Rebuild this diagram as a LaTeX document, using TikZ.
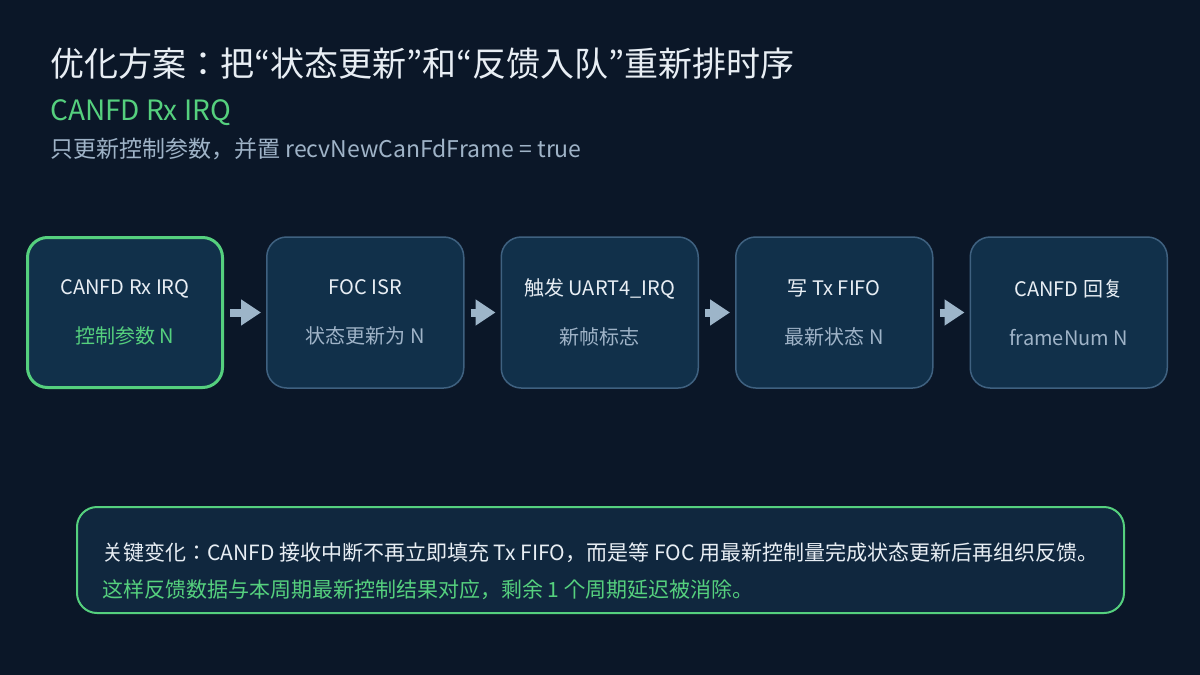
\documentclass[tikz,border=0pt]{standalone}
\usepackage{fontspec}
\setmainfont{Noto Sans CJK JP}
\usepackage{xcolor}
\usepackage{tikz}
\usetikzlibrary{positioning,arrows.meta}
\definecolor{pageBg}{HTML}{0B1728}
\definecolor{boxFill}{HTML}{11304A}
\definecolor{noteFill}{HTML}{10273E}
\definecolor{boxEdge}{HTML}{3F6180}
\definecolor{accentGreen}{HTML}{55D07E}
\definecolor{mainText}{HTML}{E8EEF4}
\definecolor{subText}{HTML}{9FB3C7}
\definecolor{arrowGrey}{HTML}{9DB5C9}
\tikzset{
  stageBox/.style={
    rectangle,
    rounded corners=20pt,
    draw=boxEdge,
    line width=1.5pt,
    fill=boxFill,
    minimum width=197pt,
    minimum height=151pt,
    align=center,
    text=mainText,
    font=\fontsize{20}{49}\selectfont
  },
  activeBox/.style={
    stageBox,
    draw=accentGreen,
    line width=3pt,
    minimum width=195pt,
    minimum height=150pt
  },
  flowArrow/.style={
    -{Triangle[length=20pt,width=25pt]},
    line width=8pt,
    draw=arrowGrey,
    shorten <=6pt,
    shorten >=5pt
  },
  noteBox/.style={
    rectangle,
    rounded corners=20pt,
    draw=accentGreen,
    line width=2pt,
    fill=noteFill,
    minimum width=1047pt,
    minimum height=106pt
  },
  headText/.style={
    anchor=base west,
    inner sep=0pt
  }
}

\begin{document}
\begin{tikzpicture}[x=1pt,y=-1pt]
        \fill[pageBg] (0,0) rectangle (1200,675);

        \node[headText, text=mainText, font=\fontsize{34}{40}\selectfont] (title) at (50,76) {优化方案：把“状态更新”和“反馈入队”重新排时序};
        \node[headText, text=accentGreen, font=\fontsize{28}{32}\selectfont] (irqName) at (50,120) {CANFD Rx IRQ};
        \node[headText, text=subText, font=\fontsize{23}{27}\selectfont] (irqNote) at (50,157) {只更新控制参数，并置 recvNewCanFdFrame = true};

        \node[activeBox] (canRx) at (125,312.5) {CANFD Rx IRQ\\\textcolor{accentGreen}{控制参数 N}};
        \node[stageBox, right=42pt of canRx] (focIsr) {FOC ISR\\\textcolor{subText}{状态更新为 N}};
        \node[stageBox, right=36pt of focIsr] (uartIrq) {触发 UART4\_IRQ\\\textcolor{subText}{新帧标志}};
        \node[stageBox, right=36pt of uartIrq] (txFifo) {写 Tx FIFO\\\textcolor{subText}{最新状态 N}};
        \node[stageBox, right=36pt of txFifo] (canReply) {CANFD 回复\\\textcolor{subText}{frameNum N}};

        \draw[flowArrow] (canRx) -- (focIsr);
        \draw[flowArrow] (focIsr) -- (uartIrq);
        \draw[flowArrow] (uartIrq) -- (txFifo);
        \draw[flowArrow] (txFifo) -- (canReply);

        \node[noteBox] (keyBox) at (600.5,560) {};
        \node[anchor=west, inner sep=0pt, align=left, text=mainText, font=\fontsize{21}{37}\selectfont] (keyText) at (102,571.5) {关键变化：CANFD 接收中断不再立即填充 Tx FIFO，而是等 FOC 用最新控制量完成状态更新后再组织反馈。\\\textcolor{accentGreen}{这样反馈数据与本周期最新控制结果对应，剩余 1 个周期延迟被消除。}};
    \end{tikzpicture}
\end{document}
